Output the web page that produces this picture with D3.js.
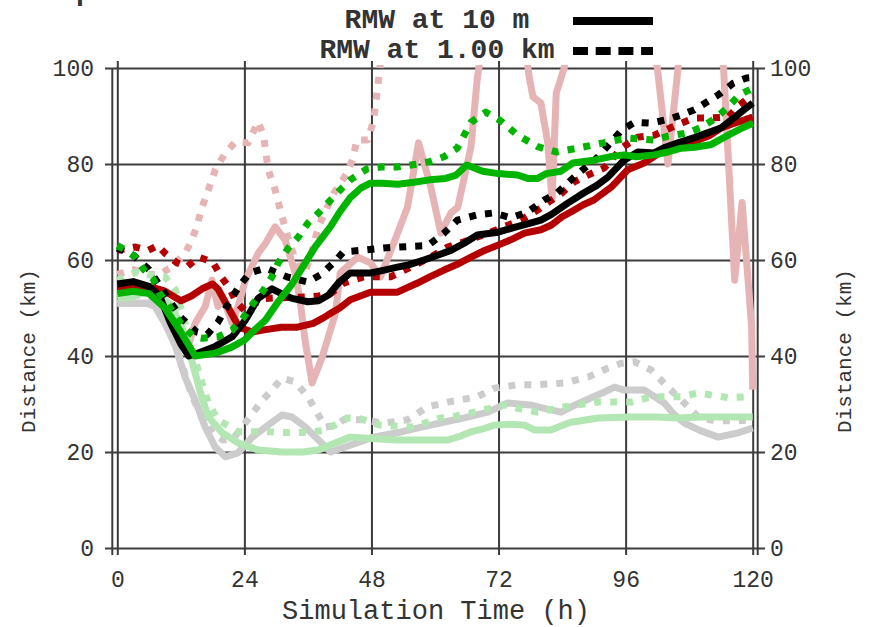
<!DOCTYPE html>
<html>
<head>
<meta charset="utf-8">
<script src="https://cdn.jsdelivr.net/npm/d3@7"></script>
<style>
  body { margin: 0; background: #fff; }
  svg { display: block; }
  text { font-family: "Liberation Mono", "DejaVu Sans Mono", monospace; fill: #333; }
</style>
</head>
<body>
<svg id="chart" width="871" height="627"></svg>
<script>
// tick values
var xTicks = [0, 24, 48, 72, 96, 120];
var yTicks = [0, 20, 40, 60, 80, 100];

// series: [hour, km]
var pinkSolid = [[0,51],[3,51],[6,51],[9,50],[11,48.5],[12.5,45],[13.4,42],[14.7,46.8],[16.6,50.3],[17.9,55.8],[19,50.3],[20,52],[21.7,46.8],[22.8,50.3],[24.2,55.8],[26.6,61.4],[28,63.5],[29.8,66.9],[31.7,64.2],[33.6,57.3],[34.5,51.7],[35.5,43],[36.8,34.4],[38.7,39.8],[41.2,48.9],[42.1,57.3],[45.4,60.6],[47.8,59.4],[49.7,56.5],[52.2,63.5],[54.8,71],[56.9,84.4],[59.2,75.2],[61.1,65.6],[63,69.8],[64.3,71],[66.8,83.6],[68,98],[69,105],[73,110],[77,105],[77.8,98],[78.5,94],[80,92.7],[81.3,84.4],[82.1,72.5],[82.9,94.8],[84.4,100],[85,110],[100,110],[102,100],[104,80],[105.9,100],[106.5,110],[113,110],[114.5,100],[116.6,55.8],[118,72],[119.8,46],[120,33]];
var pinkDotted = [[0,57],[3,58],[6,57],[8,57],[9.4,58],[10.4,58.6],[12.8,61.4],[14,64],[15,66.9],[16,71],[17.2,74.6],[18.5,78.8],[20.4,82.3],[22.3,84.6],[24.7,84.4],[26.6,88.8],[27.6,86],[28.5,78.8],[29.8,74.6],[31,69.5],[32,65.6],[33,62],[34.5,58],[35.5,57.5],[36.8,62],[38,67],[40.9,73.9],[43.4,78.1],[44.6,81.5],[45.2,85],[47.3,85],[48.4,89],[49.1,95.4],[49.6,100],[50.5,115],[60,120],[120,120]];
var greySolid = [[0,51],[3,51],[5.5,51],[7.1,50.3],[9,46.8],[11,42],[12.8,35.6],[14.7,30.8],[16.6,25.2],[18.5,21],[20.4,19],[22.8,19.8],[25.5,23.1],[28,25.2],[31.1,27.7],[33,27.3],[35.5,25.2],[38,22.5],[40.3,20],[43.4,21.2],[48.4,23.1],[52.9,24],[56,24.8],[59.2,25.6],[62,26.3],[65.5,27.1],[70,28.3],[73.7,30.2],[78,29.8],[81,29],[83.8,28.3],[86.5,29.8],[89.5,31.3],[92,32.5],[93.9,33.5],[95.7,32.9],[99.5,32.9],[101.5,31.5],[103.3,30.2],[105,28],[107.1,26],[110,24.5],[113.5,23.1],[117.3,24],[120,25]];
var greyDotted = [[0,53],[3,53],[6,52],[8,50],[10,45],[12,39],[14,32],[16,27],[18,24],[20,22.5],[22,23],[23.6,25.2],[25.5,28],[27.4,30.8],[29.2,32.9],[31.1,35.4],[33.6,34.6],[36,31.5],[37.4,28.8],[39.3,25.2],[41,25.5],[42.7,26.7],[46.5,26.7],[50.3,26],[54.8,26.7],[58.6,29.4],[62.4,30.4],[68,31.5],[71.2,33.3],[75.6,34],[79.4,34],[84.4,34.4],[88.9,35.6],[92.7,37.5],[95.2,38.5],[97.7,38.8],[100.8,37.1],[104,33.5],[107.1,30.2],[109.7,27.3],[112.8,26.5],[117.3,26.5],[120,26.7]];
var lgreenSolid = [[0,52],[2.8,52.3],[5.2,53.3],[7.7,53],[10.4,50.3],[12.8,44],[14.4,37.7],[15.7,32.3],[17.2,27.3],[19.8,24],[22.8,21.9],[26.6,20.4],[31.1,20],[35,20],[38,20.4],[40.3,21.5],[44,23.1],[48,22.8],[52.9,22.5],[57,22.5],[62.4,22.5],[64.5,23.2],[66.8,24.2],[69,24.8],[71.2,25.6],[74,25.8],[76.9,25.6],[78.7,24.6],[81.9,24.6],[84,25.5],[85.7,26.2],[90.8,27.1],[96.4,27.3],[102,27.3],[105.9,27.1],[110,27.3],[120,27.3]];
var lgreenDotted = [[0,55.8],[3.7,57.5],[5.8,56.9],[9,56.5],[11,53.7],[12.3,48.9],[13.4,44],[14.7,39.2],[16,34.4],[17.2,30.2],[19,26.7],[22.8,24.2],[28.5,24.2],[33,24],[36.8,24.2],[39,24.5],[40.9,25.5],[43.4,27.1],[46,26.9],[49.7,25.6],[55.4,25.2],[58,26],[61.1,27.1],[64,27.5],[67.4,28.3],[70,29],[73.1,29.8],[76,29],[79.4,28.3],[84.4,29.4],[90.8,30.4],[97.1,30.4],[100.8,31.5],[106.5,31.5],[109.7,32.3],[115.4,31.3],[119.1,31.5],[120,31.5]];
var redSolid = [[0,54],[3,54.4],[6,54.5],[9,53.5],[12,51.5],[14,52.5],[16,54],[18,55],[19,54],[21,50],[23,46],[25.5,45],[28,45.5],[31,46],[34,46],[37,46.8],[39,48],[40.3,48.9],[42,50],[44,51.7],[47.8,53.3],[52.9,53.3],[56.7,55.2],[59,56.5],[61.7,57.9],[64,59],[66.8,60.6],[69,61.8],[71.9,63.1],[74.5,64.3],[76.9,65.6],[80,66.3],[82,67.3],[84,69],[86.3,70.4],[88,71.5],[90,72.5],[93.3,75.2],[96.4,78.8],[99.5,80.2],[102,82],[104,83.3],[107,84.2],[109.7,85],[112,86],[114,87.5],[116,88.3],[118.5,89.2],[120,89.8]];
var redDotted = [[0,62],[3.4,62.7],[5.8,62],[7.7,63],[9,61.4],[11.3,59.4],[13.2,58.6],[15.3,60.6],[18,59.6],[19.8,56.2],[21.3,54],[22.3,51.5],[24,49.5],[26,51],[28,52],[32,52.2],[36,52.3],[38,52.5],[40.3,53],[42.8,55.2],[46.5,56.5],[51.6,56.5],[55.4,58.5],[59.2,60.6],[62.4,62.7],[65.5,63.8],[68,64.8],[70.5,65.8],[73,66.9],[76.2,68.3],[79.5,70.5],[82,72.5],[84,74],[86.3,76.3],[88.9,77.7],[92,79.2],[95.2,83.3],[98.3,85.6],[101.4,86],[104,87.3],[106.5,88.5],[109,89.6],[112,89.6],[115.4,89.8],[117.5,92.3],[120,94.4]];
var blackSolid = [[0,55],[3,55.5],[6,54.5],[8,52.5],[10,47],[12,42.5],[13.5,40],[15.3,40.6],[18.5,42],[21.7,44],[24.2,47.5],[26.6,52],[29.2,54],[31,53],[33,52],[36,51.3],[38,51.5],[39.9,52.7],[42,55.5],[44,57.3],[47.8,57.3],[50,57.8],[52.9,58.5],[55,59],[57.9,60],[60.5,61],[63,62],[65.5,63.5],[68,65.2],[71.9,65.8],[75,66.8],[78,67.7],[80,68.3],[82,69.5],[85,71.8],[88,73.9],[90.5,75.5],[92.7,77.3],[95.7,80.8],[98.3,82.5],[101.4,82.3],[103.5,83.5],[105.9,84.4],[109,85.5],[112,86.7],[114,87.5],[116,89.2],[118,91],[120,92.7]];
var blackDotted = [[0,62.5],[3,61],[6,58],[9,53],[12,48],[15,45],[17,44.5],[19,47],[21,51],[23,54.5],[25,57.3],[28,58.3],[32,56.5],[36,55.4],[38.5,57],[41,59.6],[42.7,61.7],[46,62],[50.3,62.5],[54.8,62.8],[58.6,63],[61.7,65.6],[64.2,68.3],[68,69.4],[71,69.8],[74.3,68.8],[77.5,70],[80.6,72.5],[83,73.9],[86.3,77.3],[90.8,81.5],[95.2,87],[97.7,88.7],[100.8,88.5],[104,89.3],[106.5,90.2],[109,91.3],[113.5,94.4],[116.3,96.8],[118.8,97.9],[120,98]];
var greenSolid = [[0,53],[3,53.5],[6,53],[9,50],[12,45],[14.7,40],[18.5,40.6],[21.5,41.8],[24,43.3],[26,45.5],[28,47.5],[30.5,51.5],[33,55],[35,58.5],[37.4,62.8],[40.3,67],[42,70],[44,73],[46,75],[47.8,76],[50,76],[53,75.8],[56,76.2],[59,76.7],[62,77],[64,77.7],[66,79.8],[69,78.5],[72,78],[75.6,77.7],[77.5,77],[79.4,77],[81,78],[83.8,78.5],[86,80.2],[90,80.8],[93,81.5],[95.7,81.9],[98,81.5],[101.4,81.9],[104,82.5],[106.5,83.3],[109,83.5],[112,84],[115.4,86],[118,87.5],[120,88.5]];
var greenDotted = [[0,63],[1.7,62],[3.4,60.6],[5,58],[6.8,56],[8,53],[9.4,51],[10.6,49],[12.5,46],[14.5,44],[16,43.7],[19,44],[21.7,45.4],[23.8,48],[25.7,51],[27.6,53.7],[29.2,56.5],[30.4,59.4],[32.3,62.5],[34.2,64.8],[36,67.7],[38,69.8],[40.3,72.5],[42,74.5],[44,76.7],[47.2,79],[50,79.4],[53,79.4],[56.7,80],[59,80.5],[61.7,81.5],[64.2,83.3],[66.8,88.7],[69.6,90.8],[72.4,89],[75.6,86],[79.4,83.6],[81.3,83],[83,82.5],[87,83.3],[90,84],[92.7,84.6],[96.4,85.4],[101.4,85],[104,85.8],[107.8,86.5],[110,87.5],[112.8,89.4],[115,91.5],[117.5,94.4],[120,95.8]];

var legendLabels = ["RMW at 10 m", "RMW at 1.00 km"];

var svg = d3.select("#chart");
var x = d3.scaleLinear().domain([0, 120]).range([117.3, 752.7]);
var y = d3.scaleLinear().domain([0, 100]).range([548, 68]);
var gridColor = "#3c3c3c";

// grid (horizontal lines with outer ticks both sides)
var gy = svg.append("g").attr("transform", "translate(105,0)")
    .call(d3.axisRight(y).tickValues(yTicks).tickSize(660).tickFormat(""));
gy.select(".domain").remove();
gy.selectAll("line").attr("stroke", gridColor).attr("stroke-width", 2);

var gx = svg.append("g").attr("transform", "translate(0,61)")
    .call(d3.axisBottom(x).tickValues(xTicks).tickSize(494).tickFormat(""));
gx.select(".domain").remove();
gx.selectAll("line").attr("stroke", gridColor).attr("stroke-width", 2);

// frame sides
svg.append("line").attr("x1", 112.3).attr("x2", 112.3).attr("y1", 68).attr("y2", 555)
    .attr("stroke", gridColor).attr("stroke-width", 2);
svg.append("line").attr("x1", 757.7).attr("x2", 757.7).attr("y1", 68).attr("y2", 555)
    .attr("stroke", gridColor).attr("stroke-width", 2);

// tick labels
function labels(g) {
    g.select(".domain").remove();
    g.selectAll("text").attr("font-size", 23).attr("fill", "#3a3a3a")
        .style("font-family", "'Liberation Mono', monospace");
}
svg.append("g").attr("transform", "translate(105,0)")
    .call(d3.axisLeft(y).tickValues(yTicks).tickSize(0).tickPadding(11)).call(labels);
svg.append("g").attr("transform", "translate(765,0)")
    .call(d3.axisRight(y).tickValues(yTicks).tickSize(0).tickPadding(5)).call(labels);
svg.append("g").attr("transform", "translate(0,555)")
    .call(d3.axisBottom(x).tickValues(xTicks).tickSize(0).tickPadding(16)).call(labels);

// axis titles
svg.append("text").attr("x", 436).attr("y", 619).attr("text-anchor", "middle")
    .attr("font-size", 27).text("Simulation Time (h)");
svg.append("text").attr("transform", "translate(35,351) rotate(-90)").attr("text-anchor", "middle")
    .attr("font-size", 21).text("Distance (km)");
svg.append("text").attr("transform", "translate(851,351) rotate(-90)").attr("text-anchor", "middle")
    .attr("font-size", 21).text("Distance (km)");

// clipped title fragment at very top
svg.append("text").attr("x", 76).attr("y", 0).attr("font-size", 28).attr("font-weight", "bold")
    .attr("fill", "#000").text("p");

// lines
svg.append("clipPath").attr("id", "clip").append("rect")
    .attr("x", 112).attr("y", 65).attr("width", 646).attr("height", 486);
var plot = svg.append("g").attr("clip-path", "url(#clip)");
var line = d3.line().x(function(d) { return x(d[0]); }).y(function(d) { return y(d[1]); });

var series = [
    [pinkSolid, "#e6b4b4", false],
    [pinkDotted, "#e6b4b4", true],
    [greySolid, "#cccccc", false],
    [greyDotted, "#cccccc", true],
    [lgreenSolid, "#b2e6b2", false],
    [lgreenDotted, "#b2e6b2", true],
    [redSolid, "#b40000", false],
    [redDotted, "#b40000", true],
    [blackSolid, "#000000", false],
    [blackDotted, "#000000", true],
    [greenSolid, "#00b400", false],
    [greenDotted, "#00b400", true]
];
series.forEach(function(s) {
    plot.append("path").attr("d", line(s[0]))
        .attr("fill", "none").attr("stroke", s[1]).attr("stroke-width", 7)
        .attr("stroke-linejoin", "round")
        .attr("stroke-dasharray", s[2] ? "7,9" : null);
});

// legend
var leg = svg.append("g");
legendLabels.forEach(function(t, i) {
    var yy = 21 + i * 30;
    leg.append("text").attr("x", 437).attr("y", yy + 7).attr("text-anchor", "middle")
        .attr("font-size", 28).attr("font-weight", "bold").attr("fill", "#000").text(t);
    leg.append("line").attr("x1", 573).attr("x2", 653).attr("y1", yy).attr("y2", yy)
        .attr("stroke", "#000").attr("stroke-width", 8)
        .attr("stroke-dasharray", i === 1 ? "15,7.7" : null);
});
</script>
</body>
</html>
